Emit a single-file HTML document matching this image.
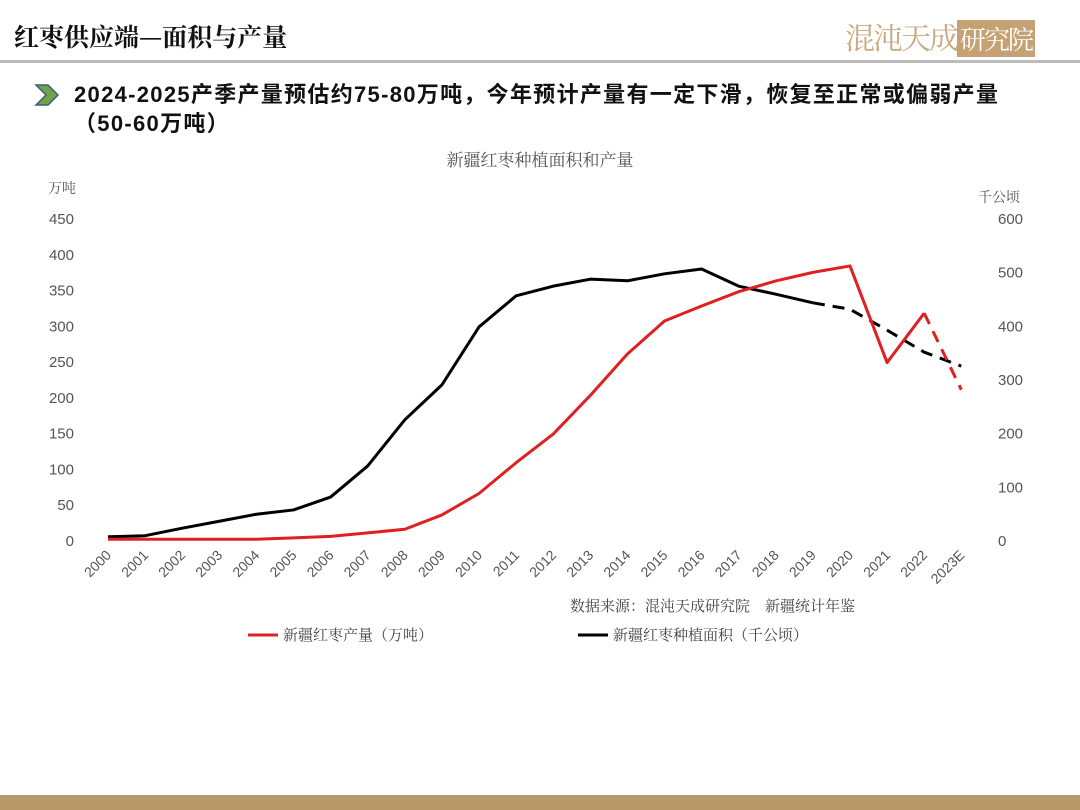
<!DOCTYPE html>
<html><head><meta charset="utf-8"><style>
body{margin:0;width:1080px;height:810px;background:#fff;font-family:"Liberation Sans","Noto Sans CJK SC",sans-serif;overflow:hidden;position:relative}
.t{position:absolute}
</style></head><body>
<div class="t" style="left:14px;top:18px;font-size:25px;font-weight:bold;font-family:'Noto Serif CJK SC',serif;color:#111">红枣供应端—面积与产量</div>
<div class="t" style="left:845px;top:14px;font-size:30px;color:#c8aa80;font-family:'Noto Serif CJK SC',serif;letter-spacing:-2px">混沌天成<span style="background:#c4a273;color:#fff;font-size:26px;padding:0 3px">研究院</span></div>
<div class="t" style="left:0;top:60px;width:1080px;height:3px;background:#bbb"></div>
<svg class="t" style="left:34px;top:83px" width="28" height="24"><polygon points="2,2 14,2 24,12 14,22 2,22 12,12" fill="#6fa54a" stroke="#3d5e78" stroke-width="1.5"/></svg>
<div class="t" style="left:74px;top:80px;font-size:22px;font-weight:bold;letter-spacing:1.3px;line-height:29px;color:#111;width:1006px">2024-2025产季产量预估约75-80万吨，今年预计产量有一定下滑，恢复至正常或偏弱产量<br>（50-60万吨）</div>
<svg class="t" style="left:0;top:0" width="1080" height="810" id="chart"></svg>
<div class="t" style="left:0;top:795px;width:1080px;height:15px;background:#b89a6a"></div>
<script>
const years=["2000","2001","2002","2003","2004","2005","2006","2007","2008","2009","2010","2011","2012","2013","2014","2015","2016","2017","2018","2019","2020","2021","2022","2023E"];
const output=[1,1,1,1,1,3,5,10,15,35,65,108,148,202,260,306,327,347,362,374,383,248,317,210];
const area=[6,8,22,35,48,56,80,138,224,289,397,455,473,486,483,496,505,473,458,442,430,391,350,324];
const leftTicks=[0,50,100,150,200,250,300,350,400,450];
const rightTicks=[0,100,200,300,400,500,600];
const svg=document.getElementById('chart');const NS='http://www.w3.org/2000/svg';
const x=i=>108+i*37.1, yl=v=>540-v*322/450, yr=v=>540-v*322/600;
function mk(tag,a,txt){const e=document.createElementNS(NS,tag);for(const k in a)e.setAttribute(k,a[k]);if(txt!=null)e.textContent=txt;svg.appendChild(e);return e;}
let e=mk('text',{x:540,y:166,'text-anchor':'middle','font-size':17,fill:'#555','font-family':'Noto Serif CJK SC,serif'},'新疆红枣种植面积和产量');

e=mk('text',{x:48,y:193,'font-size':14,fill:'#555','font-family':'Noto Serif CJK SC,serif'},'万吨');

e=mk('text',{x:978,y:202,'font-size':14,fill:'#555','font-family':'Noto Serif CJK SC,serif'},'千公顷');

leftTicks.forEach(v=>{const t=mk('text',{x:74,y:yl(v)+6,'text-anchor':'end','font-size':15,fill:'#555'},v);
});
rightTicks.forEach(v=>{const t=mk('text',{x:998,y:yr(v)+6,'font-size':15,fill:'#555'},v);
});
years.forEach((yy,i)=>{const t=mk('text',{x:x(i)+4,y:556,'text-anchor':'end','font-size':14,fill:'#555',transform:`rotate(-45 ${x(i)+4} 556)`},yy);
});
function path(vals,f,from,to){return vals.slice(from,to+1).map((v,j)=>(j?'L':'M')+x(from+j)+','+f(v)).join('');}
e=mk('path',{d:path(area,yr,0,19),fill:'none',stroke:'#000','stroke-width':3,'stroke-linejoin':'round'});

e=mk('path',{d:path(area,yr,19,23),fill:'none',stroke:'#000','stroke-width':3,'stroke-dasharray':'12,8'});

e=mk('path',{d:path(output,yl,0,22),fill:'none',stroke:'#e02020','stroke-width':3,'stroke-linejoin':'round'});

e=mk('path',{d:path(output,yl,22,23),fill:'none',stroke:'#e02020','stroke-width':3,'stroke-dasharray':'12,8'});

e=mk('text',{x:570,y:611,'font-size':15,fill:'#444','font-family':'Noto Serif CJK SC,serif'},'数据来源：混沌天成研究院　新疆统计年鉴');

e=mk('line',{x1:248,y1:635,x2:278,y2:635,stroke:'#e02020','stroke-width':3});

e=mk('text',{x:283,y:640,'font-size':15,fill:'#444','font-family':'Noto Serif CJK SC,serif'},'新疆红枣产量（万吨）');

e=mk('line',{x1:578,y1:635,x2:608,y2:635,stroke:'#000','stroke-width':3});

e=mk('text',{x:613,y:640,'font-size':15,fill:'#444','font-family':'Noto Serif CJK SC,serif'},'新疆红枣种植面积（千公顷）');

</script>
</body></html>
